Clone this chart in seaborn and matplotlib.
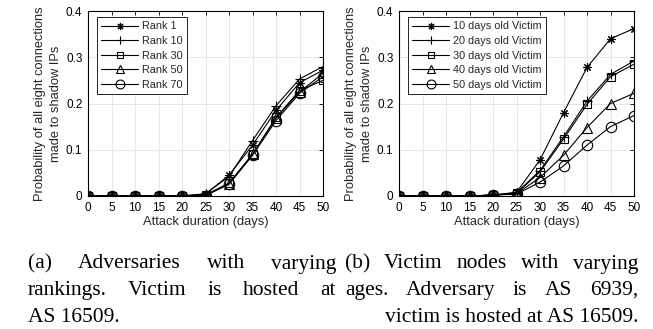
import numpy as np
import pandas as pd
import matplotlib
matplotlib.use("Agg")
import matplotlib.pyplot as plt
import seaborn as sns

# Attack duration (days)
days = [0, 5, 10, 15, 20, 25, 30, 35, 40, 45, 50]

# (a) adversaries of different rankings, victim hosted at AS 16509
rank_labels = ["Rank 1", "Rank 10", "Rank 30", "Rank 50", "Rank 70"]
rank_1 = [0, 0, 0, 0, 0, 0.004, 0.045, 0.110, 0.185, 0.245, 0.272]
rank_10 = [0, 0, 0, 0, 0, 0.005, 0.042, 0.120, 0.195, 0.253, 0.280]
rank_30 = [0, 0, 0, 0, 0, 0.002, 0.028, 0.090, 0.170, 0.228, 0.250]
rank_50 = [0, 0, 0, 0, 0, 0.002, 0.027, 0.090, 0.168, 0.225, 0.265]
rank_70 = [0, 0, 0, 0, 0, 0.001, 0.025, 0.088, 0.163, 0.222, 0.258]

# (b) victims of different ages, adversary AS 6939
age_labels = ["10 days old Victim", "20 days old Victim", "30 days old Victim",
              "40 days old Victim", "50 days old Victim"]
age_10 = [0, 0, 0, 0, 0.002, 0.008, 0.078, 0.180, 0.278, 0.340, 0.362]
age_20 = [0, 0, 0, 0, 0.002, 0.007, 0.055, 0.128, 0.205, 0.263, 0.292]
age_30 = [0, 0, 0, 0, 0.002, 0.006, 0.052, 0.123, 0.198, 0.258, 0.285]
age_40 = [0, 0, 0, 0, 0.002, 0.005, 0.040, 0.088, 0.148, 0.200, 0.222]
age_50 = [0, 0, 0, 0, 0.002, 0.004, 0.030, 0.065, 0.110, 0.150, 0.174]

x_ticks = [0, 5, 10, 15, 20, 25, 30, 35, 40, 45, 50]
y_ticks = [0, 0.1, 0.2, 0.3, 0.4]
y_tick_labels = ["0", "0.1", "0.2", "0.3", "0.4"]

x_label = "Attack duration (days)"
y_label = "Probability of all eight connections\nmade to shadow IPs"

caption_a = [["(a)", "Adversaries", "with", "varying"],
             ["rankings.", "Victim", "is", "hosted", "at"],
             ["AS 16509."]]
caption_b = [["(b)", "Victim", "nodes", "with", "varying"],
             ["ages.", "Adversary", "is", "AS", "6939,"],
             ["victim is hosted at AS 16509."]]

sns.set_theme(style="white")
plt.rcParams["font.family"] = ["Liberation Sans", "DejaVu Sans"]
plt.rcParams["axes.linewidth"] = 0.8

W, H = 653, 329
fig = plt.figure(figsize=(W / 100, H / 100), dpi=100)
fig.patch.set_facecolor("white")

marker_shapes = [(8, 2, 0), "+", "s", "^", "o"]
marker_sizes = [6, 7, 5.5, 7.5, 7.5]


def draw_panel(ax, labels, series):
    lines = []
    for lab, vals, mk, ms in zip(labels, series, marker_shapes, marker_sizes):
        df = pd.DataFrame({"days": days, "prob": vals})
        sns.lineplot(data=df, x="days", y="prob", color="black",
                     marker=mk, markersize=ms, linewidth=0.8,
                     markeredgecolor="black", markeredgewidth=0.8,
                     markerfacecolor="none", ax=ax, label=lab, legend=False)
        lines.append(ax.get_lines()[-1])
    ax.set_xlim(0, 50)
    ax.set_ylim(0, 0.4)
    ax.set_xticks(x_ticks)
    ax.set_yticks(y_ticks)
    ax.set_yticklabels(y_tick_labels)
    ax.grid(True, color="#e3e3e3", linewidth=0.6)
    ax.set_axisbelow(True)
    for s in ax.spines.values():
        s.set_color("black")
        s.set_linewidth(0.8)
    ax.tick_params(direction="in", length=3, width=0.6, top=True, right=True,
                   labelsize=8.5, colors="black", pad=4)
    ax.tick_params(axis="x", pad=4.5)
    ax.set_xlabel(x_label, fontsize=9.3, labelpad=1.5)
    ax.set_ylabel(y_label, fontsize=9.3, labelpad=3, linespacing=1.45)
    leg = ax.legend(lines, labels, loc="upper left",
                    bbox_to_anchor=(0.038, 0.967), fontsize=7.8,
                    handlelength=3.4, handletextpad=0.35, labelspacing=0.42,
                    borderpad=0.4, borderaxespad=0, frameon=True,
                    markerscale=0.85,
                    fancybox=False, edgecolor="black", framealpha=1)
    leg.get_frame().set_linewidth(0.6)
    return ax


ax_a = fig.add_axes([88 / W, 1 - 196 / H, 235 / W, 185 / H])
ax_b = fig.add_axes([399 / W, 1 - 196 / H, 235 / W, 185 / H])
draw_panel(ax_a, rank_labels, [rank_1, rank_10, rank_30, rank_50, rank_70])
draw_panel(ax_b, age_labels, [age_10, age_20, age_30, age_40, age_50])

# Sub-figure captions, justified like a two-column paper layout
renderer = fig.canvas.get_renderer()
cap_font = dict(family=["Liberation Serif", "DejaVu Serif"], fontsize=15.5,
                color="black")


def word_width(word):
    t = fig.text(0, 0, word, **cap_font)
    w = t.get_window_extent(renderer).width
    t.remove()
    return w


def justified(words, left, right, baseline, align="justify"):
    y = 1 - baseline / H
    if align == "left" or (align == "justify" and len(words) == 1):
        fig.text(left / W, y, words[0], ha="left", va="baseline", **cap_font)
        return
    if align == "right":
        fig.text(right / W, y, words[0], ha="right", va="baseline", **cap_font)
        return
    widths = [word_width(w) for w in words]
    gap = (right - left - sum(widths)) / (len(words) - 1)
    x = left
    for w, wd in zip(words, widths):
        fig.text(x / W, y, w, ha="left", va="baseline", **cap_font)
        x += wd + gap


baselines = [268.5, 295, 321.5]
justified(caption_a[0], 28, 336, baselines[0])
justified(caption_a[1], 28, 336, baselines[1])
justified(caption_a[2], 28, 336, baselines[2], align="left")
justified(caption_b[0], 345, 638, baselines[0])
justified(caption_b[1], 345, 638, baselines[1])
justified(caption_b[2], 345, 638, baselines[2], align="right")

fig.savefig("out.png", dpi=100, facecolor="white")
